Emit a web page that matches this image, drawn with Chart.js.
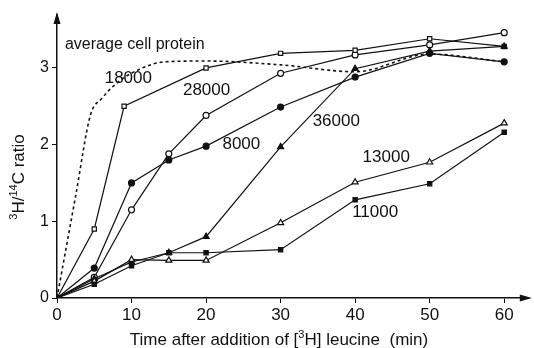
<!DOCTYPE html>
<html>
<head>
<meta charset="utf-8">
<script src="https://cdn.jsdelivr.net/npm/chart.js@4"></script>
<style>
  body { margin: 0; background: #fff; }
  #wrap { width: 534px; height: 348px; }
</style>
</head>
<body>
<div id="wrap"><canvas id="chart"></canvas></div>
<script>
// values (time in min, 3H/14C ratio)
const avgTime = [0, 2.5, 4.5, 6, 8, 11, 14.5, 20, 30, 40, 50, 60];
const avgRatio = [0, 1.33, 2.39, 2.6, 2.8, 2.98, 3.08, 3.09, 3.04, 2.95, 3.18, 3.08];

const time18000 = [0, 5, 9, 20, 30, 40, 50, 60];
const ratio18000 = [0, 0.9, 2.5, 3.0, 3.19, 3.23, 3.38, 3.28];

const time28000 = [0, 5, 10, 15, 20, 30, 40, 50, 60];
const ratio28000 = [0, 0.27, 1.15, 1.88, 2.38, 2.93, 3.17, 3.3, 3.46];

const time8000 = [0, 5, 10, 15, 20, 30, 40, 50, 60];
const ratio8000 = [0, 0.39, 1.5, 1.8, 1.98, 2.49, 2.88, 3.19, 3.08];

const time36000 = [0, 5, 10, 15, 20, 30, 40, 50, 60];
const ratio36000 = [0, 0.25, 0.47, 0.59, 0.8, 1.97, 2.99, 3.22, 3.28];

const time13000 = [0, 5, 10, 15, 20, 30, 40, 50, 60];
const ratio13000 = [0, 0.22, 0.5, 0.49, 0.49, 0.98, 1.51, 1.77, 2.28];

const time11000 = [0, 5, 10, 15, 20, 30, 40, 50, 60];
const ratio11000 = [0, 0.18, 0.42, 0.59, 0.59, 0.63, 1.28, 1.49, 2.16];

const xTicks = [0, 10, 20, 30, 40, 50, 60];
const yTicks = [0, 1, 2, 3];

// text labels placed next to the curves (data coordinates)
const curveLabels = [
    { text: 'average cell protein', x: 1.07, y: 3.30, size: 16 },
    { text: '18000', x: 6.4, y: 2.87, size: 17 },
    { text: '28000', x: 16.9, y: 2.71, size: 17 },
    { text: '8000', x: 22.2, y: 2.01, size: 17 },
    { text: '36000', x: 34.3, y: 2.31, size: 17 },
    { text: '13000', x: 41.0, y: 1.83, size: 17 },
    { text: '11000', x: 39.6, y: 1.12, size: 17 }
];

// titles as [text, superscript?] pieces
const xTitle = [['Time after addition of [', false], ['3', true], ['H] leucine  (min)', false]];
const yTitle = [['3', true], ['H/', false], ['14', true], ['C ratio', false]];

const FONT = "'Liberation Sans', Arial, sans-serif";

function toPoints(xs, ys) {
    return xs.map((x, i) => ({ x: x, y: ys[i] }));
}

function series(xs, ys, style, filled) {
    return {
        data: toPoints(xs, ys),
        borderColor: '#111',
        borderWidth: 1.2,
        pointStyle: style,
        pointRadius: style === 'triangle' ? 3.5 : 3,
        pointBorderWidth: 1.2,
        pointBorderColor: '#111',
        pointBackgroundColor: filled ? '#111' : '#fff',
        tension: 0
    };
}

// writes a title with superscripts, centred on (0,0) of the current transform
function drawRich(ctx, parts, size) {
    const big = size + 'px ' + FONT;
    const small = Math.round(size * 0.65) + 'px ' + FONT;
    let total = 0;
    parts.forEach(p => { ctx.font = p[1] ? small : big; total += ctx.measureText(p[0]).width; });
    let x = -total / 2;
    ctx.textAlign = 'left';
    ctx.textBaseline = 'alphabetic';
    parts.forEach(p => {
        ctx.font = p[1] ? small : big;
        ctx.fillText(p[0], x, p[1] ? -size * 0.38 + size * 0.35 : size * 0.35);
        x += ctx.measureText(p[0]).width;
    });
}

// draws titles, curve labels and axis arrows
const extrasPlugin = {
    id: 'extras',
    afterDraw(chart) {
        const ctx = chart.ctx;
        const xs = chart.scales.x, ys = chart.scales.y;
        const area = chart.chartArea;
        ctx.save();
        ctx.fillStyle = '#111';
        ctx.textBaseline = 'middle';
        ctx.textAlign = 'left';
        curveLabels.forEach(l => {
            ctx.font = l.size + 'px ' + FONT;
            ctx.fillText(l.text, xs.getPixelForValue(l.x), ys.getPixelForValue(l.y));
        });

        // x title
        ctx.save();
        ctx.translate(279, 339);
        drawRich(ctx, xTitle, 17);
        ctx.restore();

        // y title
        ctx.save();
        ctx.translate(18, 177);
        ctx.rotate(-Math.PI / 2);
        drawRich(ctx, yTitle, 17);
        ctx.restore();
        ctx.restore();

        // axis arrows
        ctx.save();
        ctx.fillStyle = '#111';
        ctx.beginPath();
        ctx.moveTo(area.left, area.top - 3);
        ctx.lineTo(area.left - 3.5, area.top + 9);
        ctx.lineTo(area.left + 3.5, area.top + 9);
        ctx.closePath();
        ctx.fill();
        ctx.beginPath();
        ctx.moveTo(area.right + 3, area.bottom);
        ctx.lineTo(area.right - 9, area.bottom - 3.5);
        ctx.lineTo(area.right - 9, area.bottom + 3.5);
        ctx.closePath();
        ctx.fill();
        ctx.restore();
    }
};

const avgSet = {
    data: toPoints(avgTime, avgRatio),
    borderColor: '#111',
    borderWidth: 1.6,
    borderDash: [3, 3],
    pointRadius: 0,
    tension: 0.4,
    cubicInterpolationMode: 'monotone'
};

new Chart(document.getElementById('chart'), {
    type: 'line',
    data: {
        datasets: [
            avgSet,
            series(time11000, ratio11000, 'rect', true),
            series(time13000, ratio13000, 'triangle', false),
            series(time36000, ratio36000, 'triangle', true),
            series(time8000, ratio8000, 'circle', true),
            series(time18000, ratio18000, 'rect', false),
            series(time28000, ratio28000, 'circle', false)
        ]
    },
    options: {
        responsive: true,
        maintainAspectRatio: false,
        animation: false,
        layout: { padding: { top: 15, right: 4, left: 0, bottom: 0 } },
        plugins: {
            legend: { display: false },
            tooltip: { enabled: false }
        },
        scales: {
            x: {
                type: 'linear',
                min: 0,
                max: 63.3,
                afterBuildTicks: s => { s.ticks = xTicks.map(v => ({ value: v })); },
                afterFit: s => { s.height = 50; },
                grid: { display: true, drawOnChartArea: false, drawTicks: true, tickLength: 5, color: '#111' },
                border: { display: true, color: '#111', width: 1.5 },
                ticks: {
                    color: '#111',
                    padding: 2,
                    maxRotation: 0,
                    font: { family: FONT, size: 17 }
                }
            },
            y: {
                type: 'linear',
                min: 0,
                max: 3.69,
                afterBuildTicks: s => { s.ticks = yTicks.map(v => ({ value: v })); },
                afterFit: s => { s.width = 57; },
                grid: { display: true, drawOnChartArea: false, drawTicks: true, tickLength: 5, color: '#111' },
                border: { display: true, color: '#111', width: 1.5 },
                ticks: {
                    color: '#111',
                    padding: 3,
                    font: { family: FONT, size: 16 }
                }
            }
        }
    },
    plugins: [extrasPlugin]
});
</script>
</body>
</html>
